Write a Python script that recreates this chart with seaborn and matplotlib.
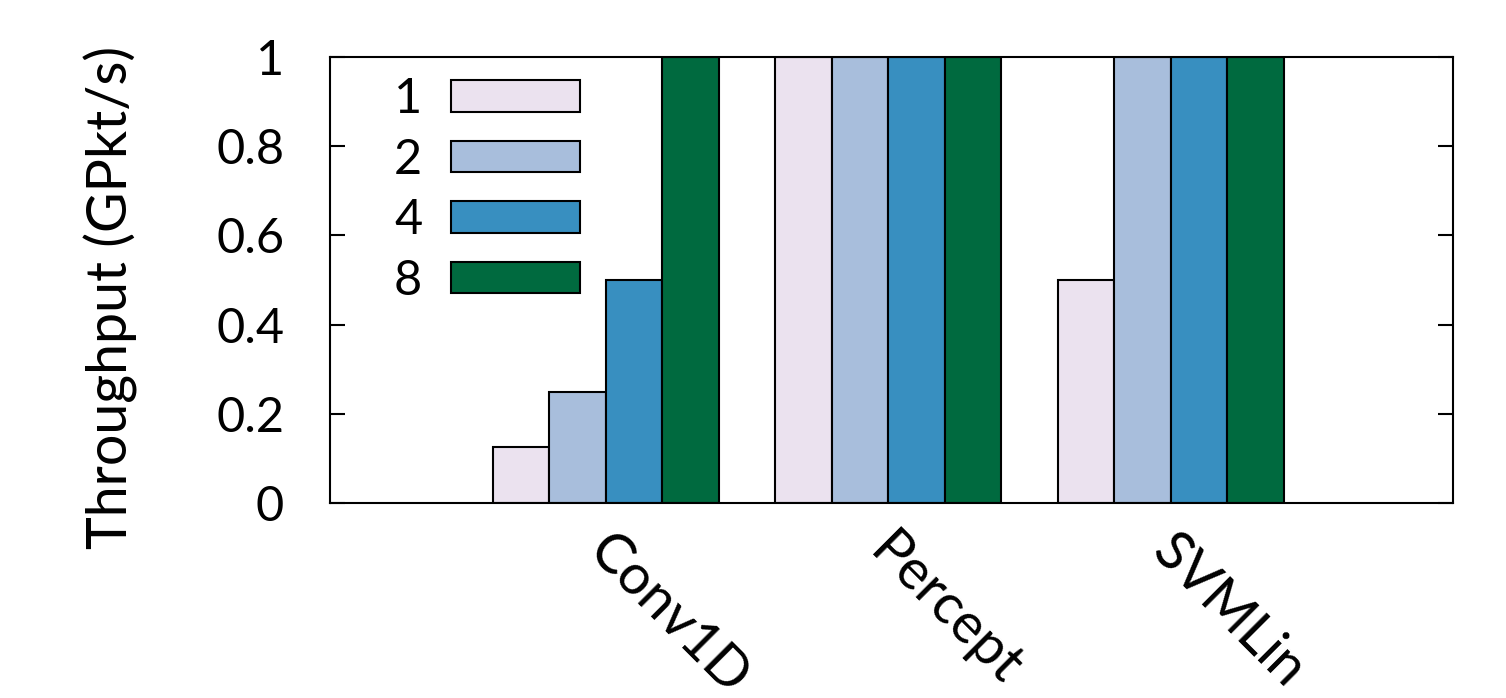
import matplotlib
matplotlib.use("Agg")
import matplotlib.pyplot as plt
import matplotlib.transforms as mtransforms
import seaborn as sns
import pandas as pd

benchmarks = ["Conv1D", "Percept", "SVMLin"]
cores = ["1", "2", "4", "8"]
tput_1 = [0.125, 1.0, 0.5]
tput_2 = [0.25, 1.0, 1.0]
tput_4 = [0.5, 1.0, 1.0]
tput_8 = [1.0, 1.0, 1.0]
colors = ["#ebe2ef", "#a8bedc", "#388fc0", "#006a3f"]
yticks = [0, 0.2, 0.4, 0.6, 0.8, 1]
ytick_labels = ["0", "0.2", "0.4", "0.6", "0.8", "1"]

rows = []
for c, vals in zip(cores, [tput_1, tput_2, tput_4, tput_8]):
    for b, v in zip(benchmarks, vals):
        rows.append({"bench": b, "cores": c, "tput": v})
df = pd.DataFrame(rows)

sns.set_theme(style="white")
plt.rcParams["font.family"] = ["Lato", "DejaVu Sans"]
plt.rcParams["text.color"] = "black"
plt.rcParams["axes.labelcolor"] = "black"
plt.rcParams["xtick.color"] = "black"
plt.rcParams["ytick.color"] = "black"

fig = plt.figure(figsize=(15.06, 6.98), dpi=100)
ax = fig.add_axes([330 / 1506, 1 - 503 / 698, 1123 / 1506, 446 / 698])

sns.barplot(data=df, x="bench", y="tput", hue="cores", order=benchmarks,
            hue_order=cores, palette=colors, width=0.8, ax=ax,
            edgecolor="black", linewidth=1.5, saturation=1, gap=0)

ax.set_xlim(-0.977, 3.0)
ax.set_ylim(0, 1)
ax.set_yticks(yticks)
ax.set_yticklabels(ytick_labels, fontsize=35)
ax.tick_params(axis="y", direction="in", length=11, width=1.5, pad=33,
               left=True, right=True, colors="black")
ax.tick_params(axis="x", length=0, pad=0)
for s in ax.spines.values():
    s.set_linewidth(1.5)
    s.set_color("black")

ax.set_xlabel("")
ax.set_ylabel("Throughput (GPkt/s)", fontsize=40)
ax.yaxis.set_label_coords(-0.171, 0.46)

ax.set_xticks(range(len(benchmarks)))
ax.set_xticklabels(benchmarks, fontsize=40, rotation=-45,
                   rotation_mode="anchor", ha="left", va="center")
offset = mtransforms.ScaledTranslation(-0.10, -0.40, fig.dpi_scale_trans)
for lab in ax.get_xticklabels():
    lab.set_transform(lab.get_transform() + offset)

handles, labels = ax.get_legend_handles_labels()
leg = ax.legend(handles, labels, loc="upper left", bbox_to_anchor=(0.031, 1.02),
                frameon=False, markerfirst=False, fontsize=35,
                handlelength=2.65, handleheight=0.62, handletextpad=0.6,
                labelspacing=0.34, borderaxespad=0.2)

fig.savefig("out.png", dpi=100)
